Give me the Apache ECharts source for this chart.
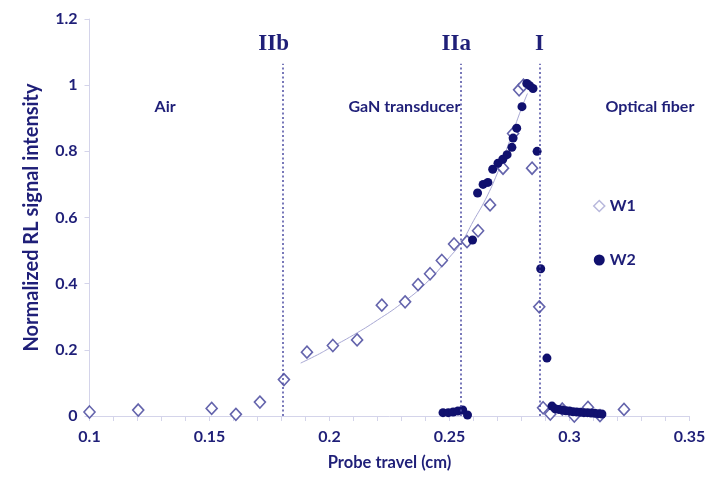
<!DOCTYPE html>
<html>
<head>
<meta charset="utf-8">
<script src="https://cdn.jsdelivr.net/npm/echarts@6/dist/echarts.min.js"></script>
<style>
html,body{margin:0;padding:0;background:#fff;}
#chart{width:717px;height:487px;}
</style>
</head>
<body>
<div id="chart"></div>
<script>
// ---- data ----
const w1X = [0.1, 0.1203, 0.1509, 0.161, 0.171, 0.181, 0.1906, 0.2014, 0.2115, 0.2218, 0.2315, 0.2369, 0.2419, 0.2468, 0.2519, 0.2573, 0.2619, 0.2669, 0.2723, 0.2765, 0.279, 0.2808, 0.2844, 0.2874, 0.289, 0.292, 0.297, 0.302, 0.3077, 0.3127, 0.3227];
const w1Y = [0.012, 0.018, 0.023, 0.005, 0.042, 0.11, 0.193, 0.213, 0.23, 0.335, 0.345, 0.397, 0.43, 0.47, 0.52, 0.527, 0.56, 0.638, 0.749, 0.854, 0.986, 1.0, 0.749, 0.33, 0.025, 0.006, 0.021, 0.0, 0.026, 0.001, 0.02];

const w2X = [0.2473, 0.2495, 0.2515, 0.2535, 0.2555, 0.2575, 0.2596, 0.2617, 0.264, 0.266, 0.268, 0.2702, 0.2722, 0.274, 0.276, 0.2765, 0.278, 0.2802, 0.2822, 0.2835, 0.2848, 0.2865, 0.288, 0.2906, 0.2927, 0.294, 0.2955, 0.297, 0.2985, 0.300, 0.3015, 0.303, 0.3045, 0.306, 0.3075, 0.309, 0.3105, 0.312, 0.3135];
const w2Y = [0.01, 0.01, 0.012, 0.015, 0.018, 0.003, 0.532, 0.674, 0.70, 0.706, 0.746, 0.764, 0.776, 0.79, 0.812, 0.84, 0.87, 0.935, 1.005, 0.998, 0.99, 0.80, 0.445, 0.175, 0.03, 0.022, 0.02, 0.018, 0.016, 0.015, 0.013, 0.012, 0.011, 0.01, 0.01, 0.009, 0.008, 0.007, 0.006];

const fitX = [0.188, 0.195, 0.20, 0.21, 0.22, 0.23, 0.24, 0.25, 0.255, 0.26, 0.265, 0.27, 0.275, 0.28, 0.2825];
const fitY = [0.16, 0.185, 0.205, 0.245, 0.29, 0.34, 0.40, 0.48, 0.525, 0.59, 0.655, 0.735, 0.83, 0.93, 0.975];

const boundaryX = [0.1805, 0.2545, 0.2875];
const boundaryNames = ['IIb', 'IIa', 'I'];
const boundaryTop = 1.065;

const regionNames = ['Air', 'GaN transducer', 'Optical fiber'];
const regionX = [0.1315, 0.2312, 0.3335];
const regionY = 0.935;

const xTicks = ['0.1', '0.15', '0.2', '0.25', '0.3', '0.35'];

// ---- chart ----
const NAVY = '#1f1f78';
const FONT = 'Lato, "Open Sans", sans-serif';
const zip = (a, b) => a.map((v, i) => [v, b[i]]);

const chart = echarts.init(document.getElementById('chart'));
const option = {
  animation: false,
  backgroundColor: '#fff',
  grid: { left: 89.5, right: 27.5, top: 19, bottom: 71 },
  xAxis: {
    type: 'value', min: 0.1, max: 0.35, interval: 0.01,
    name: 'Probe travel (cm)', nameLocation: 'middle', nameGap: 38,
    nameTextStyle: { color: NAVY, fontFamily: FONT, fontWeight: 'bold', fontSize: 16.5 },
    axisLine: { lineStyle: { color: '#d4d4ea', width: 1 } },
    axisTick: { show: true, length: 5, lineStyle: { color: '#d4d4ea' } },
    axisLabel: {
      color: NAVY, fontFamily: FONT, fontWeight: 'bold', fontSize: 16, margin: 13,
      formatter: v => { const k = Math.round(v * 100); if (k % 5 !== 0) return ''; const s = (k / 100).toString(); return xTicks.includes(s) ? s : ''; }
    },
    splitLine: { show: false }
  },
  yAxis: {
    type: 'value', min: 0, max: 1.2, interval: 0.2,
    name: 'Normalized RL signal intensity', nameLocation: 'middle', nameGap: 48, nameRotate: 90,
    nameTextStyle: { color: NAVY, fontFamily: FONT, fontWeight: 'bold', fontSize: 20 },
    axisLine: { show: true, lineStyle: { color: '#d4d4ea', width: 1 } },
    axisTick: { show: true, length: 5, lineStyle: { color: '#d4d4ea' } },
    axisLabel: { color: NAVY, fontFamily: FONT, fontWeight: 'bold', fontSize: 16, margin: 12 },
    splitLine: { show: false }
  },
  legend: {
    orient: 'vertical', left: 588, top: 193, itemGap: 38,
    itemWidth: 11, itemHeight: 11,
    textStyle: { color: NAVY, fontFamily: FONT, fontWeight: 'bold', fontSize: 16 },
    data: [
      { name: 'W1', icon: 'diamond', itemStyle: { color: '#fff', borderColor: '#b8b8dc', borderWidth: 1.5 } },
      { name: 'W2', icon: 'circle', itemStyle: { color: '#10106e' } }
    ]
  },
  series: [
    {
      name: 'fit', type: 'line', data: zip(fitX, fitY), smooth: true, symbol: 'none',
      lineStyle: { color: '#a8a8d4', width: 1 }, z: 1, silent: true,
      markLine: {
        silent: true, symbol: 'none',
        lineStyle: { color: '#4c4ca2', type: [2, 2.5], width: 1.5 },
        label: { show: false },
        data: boundaryX.map(x => [{ coord: [x, 0] }, { coord: [x, boundaryTop] }])
      }
    },
    {
      name: 'W1', type: 'scatter', data: zip(w1X, w1Y), symbol: 'diamond', symbolSize: [11, 12],
      itemStyle: { color: '#fff', borderColor: '#6464ac', borderWidth: 1.6, opacity: 1 }, z: 3
    },
    {
      name: 'W2', type: 'scatter', data: zip(w2X, w2Y), symbol: 'circle', symbolSize: 9,
      itemStyle: { color: '#10106e', opacity: 1 }, z: 4
    }
  ]
};
chart.setOption(option);

const g = [];
boundaryX.forEach((x, i) => {
  const p = chart.convertToPixel({ gridIndex: 0 }, [x, boundaryTop]);
  const dx = i === 0 ? -9 : (i === 1 ? -4 : 0);
  g.push({ type: 'text', x: p[0] + dx, y: p[1] - 20, style: { text: boundaryNames[i], fill: NAVY, font: 'bold 23px "Liberation Serif", "DejaVu Serif", serif', textAlign: 'center', textVerticalAlign: 'middle' } });
});
regionNames.forEach((n, i) => {
  const p = chart.convertToPixel({ gridIndex: 0 }, [regionX[i], regionY]);
  g.push({ type: 'text', x: p[0], y: p[1], style: { text: n, fill: NAVY, font: 'bold 16px ' + FONT, textAlign: 'center', textVerticalAlign: 'middle' } });
});
chart.setOption({ graphic: g });
</script>
</body>
</html>
